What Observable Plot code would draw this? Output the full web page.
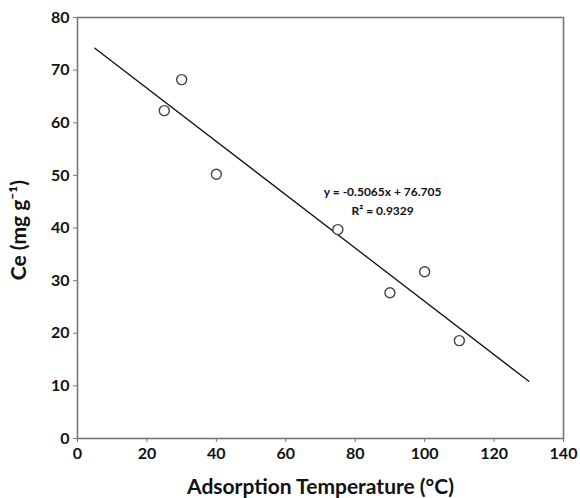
<!DOCTYPE html>
<html>
<head>
<meta charset="utf-8">
<script src="https://cdn.jsdelivr.net/npm/d3@7"></script>
<script src="https://cdn.jsdelivr.net/npm/@observablehq/plot@0.6"></script>
<style>
  html, body { margin: 0; padding: 0; background: #fff; }
  #chart svg { display: block; }
</style>
</head>
<body>
<div id="chart"></div>
<script>
const temperature = [25, 30, 40, 75, 90, 100, 110];
const ce = [62.3, 68.2, 50.2, 39.7, 27.7, 31.7, 18.6];
const slope = -0.5065;
const intercept = 76.705;
const fitRange = [5, 130];
const xTicks = [0, 20, 40, 60, 80, 100, 120, 140];
const yTicks = [0, 10, 20, 30, 40, 50, 60, 70, 80];
const equationText = "y = -0.5065x + 76.705";
const r2Text = "R² = 0.9329";
const xLabel = "Adsorption Temperature (°C)";
const yLabel = "Ce (mg g⁻¹)";

const points = temperature.map((t, i) => ({t, c: ce[i]}));
const fit = fitRange.map(t => ({t, c: slope * t + intercept}));

const font = "Lato, 'Open Sans', sans-serif";

const chart = Plot.plot({
  width: 580,
  height: 498,
  marginLeft: 77,
  marginRight: 17,
  marginTop: 17,
  marginBottom: 60,
  style: {fontFamily: font, background: "#fff", color: "#111"},
  x: {domain: [0, 140], ticks: xTicks},
  y: {domain: [0, 80], ticks: yTicks},
  marks: [
    Plot.frame({stroke: "#777", strokeWidth: 1.6}),
    Plot.axisX({ticks: xTicks, tickSize: 4, tickPadding: 5, fontSize: 16, fontWeight: "bold", stroke: "#777", label: null, tickFormat: d => d}),
    Plot.axisY({ticks: yTicks, tickSize: 4, tickPadding: 4, fontSize: 16, fontWeight: "bold", stroke: "#777", label: null, tickFormat: d => d}),
    Plot.line(fit, {x: "t", y: "c", stroke: "#111", strokeWidth: 1.3}),
    Plot.dot(points, {x: "t", y: "c", r: 5, stroke: "#444", strokeWidth: 1.4, fill: "#fff"}),
    Plot.text([equationText], {x: 87.9, y: 46.8, text: d => d, fontSize: 12, fontWeight: "bold", fill: "#111"}),
    Plot.text([r2Text], {x: 87.9, y: 43.2, text: d => d, fontSize: 12, fontWeight: "bold", fill: "#111"}),
    Plot.text([xLabel], {frameAnchor: "bottom", dy: 55, text: d => d, fontSize: 21, fontWeight: "bold", fill: "#111"}),
    Plot.text([yLabel], {frameAnchor: "left", y: 39.6, dx: -58, rotate: -90, textAnchor: "middle", text: d => d, fontSize: 21, fontWeight: "bold", fill: "#111"})
  ]
});
document.getElementById("chart").appendChild(chart);
</script>
</body>
</html>
